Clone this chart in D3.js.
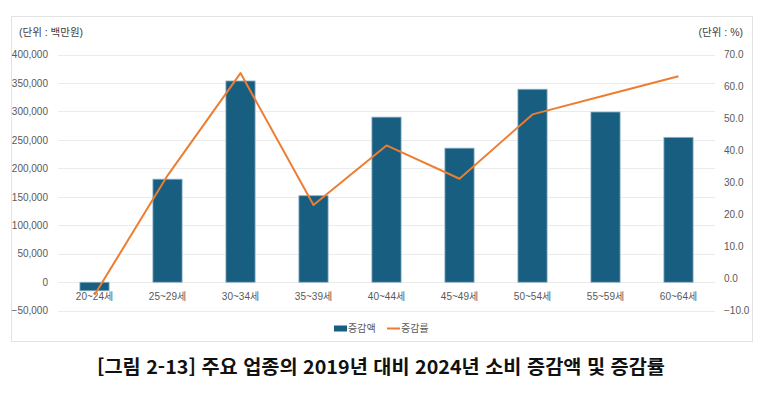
<!DOCTYPE html>
<html lang="ko">
<head>
<meta charset="UTF-8">
<title>소비 증감액 및 증감률</title>
<script src="https://cdn.jsdelivr.net/npm/d3@7"></script>
<style>
    body{
        margin: 0;
        background: #fff;
    }
    svg text{
        font-family: "Liberation Sans", "Noto Sans CJK KR", sans-serif;
    }
    .tick text{
        fill: #595959;
        font-size: 10px;
    }
    .title{
        font-family: "Noto Sans CJK KR", sans-serif !important;
        font-weight: bold;
        font-size: 19px;
        fill: #111;
    }
</style>
</head>
<body>
<svg></svg>
<script>
    // age groups and values
    const ageGroups = ["20~24세", "25~29세", "30~34세", "35~39세", "40~44세", "45~49세", "50~54세", "55~59세", "60~64세"];
    const amounts = [-15000, 181000, 353500, 152000, 290000, 235500, 339000, 299000, 254500]; // 증감액 (백만원)
    const rates = [-5.1, 32.2, 64.2, 23.0, 41.6, 31.2, 51.3, 57.3, 63.2]; // 증감률 (%)
    const leftTicks = [-50000, 0, 50000, 100000, 150000, 200000, 250000, 300000, 350000, 400000];
    const rightTicks = [-10, 0, 10, 20, 30, 40, 50, 60, 70];

    const width = 769;
    const height = 394;

    const svg = d3.select("svg")
        .attr("width", width)
        .attr("height", height);

    // chart frame
    svg.append("rect")
        .attr("x", 11.5).attr("y", 16.5)
        .attr("width", 741).attr("height", 325)
        .attr("fill", "#fff")
        .attr("stroke", "#e3e3e3");

    const x = d3.scaleBand()
        .domain(ageGroups)
        .range([58, 715])
        .paddingInner(0.6)
        .paddingOuter(0.3);

    const yL = d3.scaleLinear().domain([-50000, 400000]).range([310.7, 54.5]);
    const yR = d3.scaleLinear().domain([-10, 70]).range([310.7, 54.5]);

    // gridlines
    svg.append("g")
        .selectAll("line")
        .data(leftTicks)
        .join("line")
        .attr("x1", 58).attr("x2", 715)
        .attr("y1", d => Math.round(yL(d)) + 0.5)
        .attr("y2", d => Math.round(yL(d)) + 0.5)
        .attr("stroke", "#ebebeb");

    // left axis
    const axL = svg.append("g")
        .attr("transform", "translate(58,0)")
        .call(d3.axisLeft(yL).tickValues(leftTicks).tickSize(0).tickPadding(10)
            .tickFormat(d3.format(",")));
    axL.select(".domain").remove();

    // right axis
    const axR = svg.append("g")
        .attr("transform", "translate(715,0)")
        .call(d3.axisRight(yR).tickValues(rightTicks).tickSize(0).tickPadding(9)
            .tickFormat(d3.format(".1f")));
    axR.select(".domain").remove();

    // bars
    svg.append("g")
        .selectAll("rect")
        .data(amounts)
        .join("rect")
        .attr("x", (d, i) => x(ageGroups[i]))
        .attr("width", x.bandwidth())
        .attr("y", d => yL(Math.max(0, d)))
        .attr("height", d => Math.abs(yL(d) - yL(0)))
        .attr("fill", "#175e80")
        .attr("stroke", "#8fb3c6")
        .attr("stroke-width", 0.8);

    // category labels
    const axX = svg.append("g")
        .attr("transform", `translate(0,${yL(0)})`)
        .call(d3.axisBottom(x).tickSize(0).tickPadding(11));
    axX.select(".domain").remove();

    // line
    const line = d3.line()
        .x((d, i) => x(ageGroups[i]) + x.bandwidth() / 2)
        .y(d => yR(d));
    svg.append("path")
        .datum(rates)
        .attr("d", line)
        .attr("fill", "none")
        .attr("stroke", "#ed7d31")
        .attr("stroke-width", 2)
        .attr("stroke-linejoin", "round");

    // unit labels
    svg.append("text")
        .attr("x", 19).attr("y", 36)
        .attr("font-size", 10.5).attr("fill", "#404040")
        .text("(단위 : 백만원)");
    svg.append("text")
        .attr("x", 743).attr("y", 36)
        .attr("text-anchor", "end")
        .attr("font-size", 10.5).attr("fill", "#404040")
        .text("(단위 : %)");

    // legend
    const legend = svg.append("g").attr("font-size", 10).attr("fill", "#595959");
    legend.append("rect").attr("x", 334).attr("y", 325.5).attr("width", 13).attr("height", 6).attr("fill", "#175e80");
    legend.append("text").attr("x", 348).attr("y", 332).text("증감액");
    legend.append("line").attr("x1", 387).attr("x2", 400).attr("y1", 328.5).attr("y2", 328.5)
        .attr("stroke", "#ed7d31").attr("stroke-width", 2);
    legend.append("text").attr("x", 401).attr("y", 332).text("증감률");

    // title
    svg.append("text")
        .attr("class", "title")
        .attr("x", 381).attr("y", 374)
        .attr("text-anchor", "middle")
        .attr("textLength", 568)
        .attr("lengthAdjust", "spacingAndGlyphs")
        .text("[그림 2-13] 주요 업종의 2019년 대비 2024년 소비 증감액 및 증감률");
</script>
</body>
</html>
